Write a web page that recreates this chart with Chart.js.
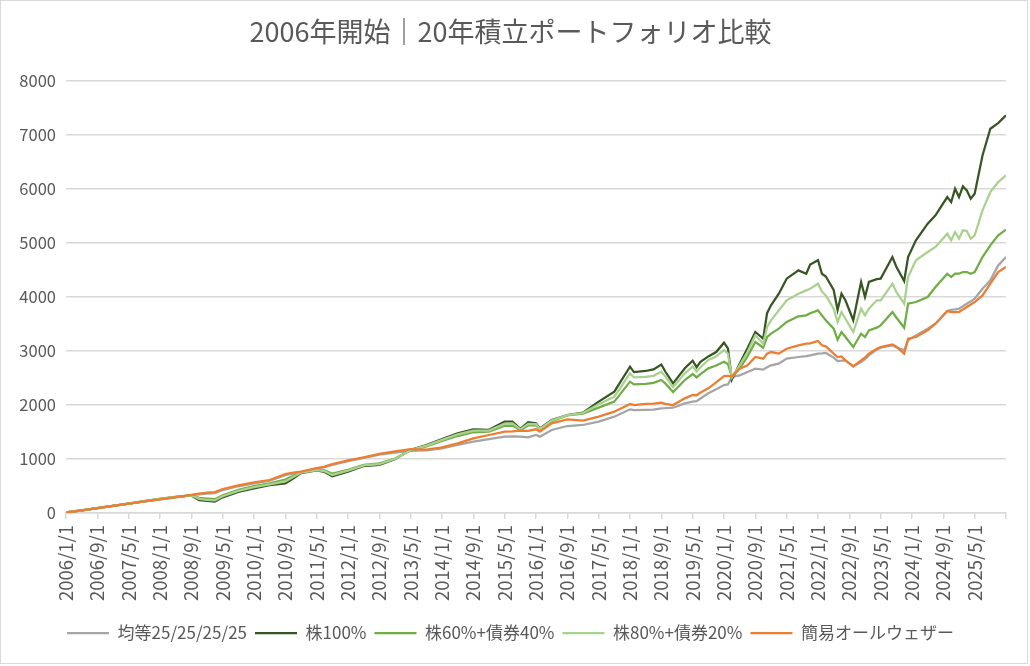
<!DOCTYPE html>
<html lang="ja">
<head>
<meta charset="utf-8">
<title>2006年開始｜20年積立ポートフォリオ比較</title>
<script src="https://cdn.jsdelivr.net/npm/chart.js@4.4.1/dist/chart.umd.min.js"></script>
<style>
  html, body { margin: 0; padding: 0; background: #ffffff; }
  #wrap { position: absolute; left: 0; top: 0; width: 1026px; height: 662px; border: 1px solid #d9d9d9; background: #ffffff; }
  #chart { display: block; }
</style>
</head>
<body>
<div id="wrap"><canvas id="chart" width="1026" height="662"></canvas></div>
<script>
// months since 2006/1 (0 = 2006/1/1)
const months = [
    0, 4, 8, 12, 16, 20, 24, 28, 32, 34, 36, 38, 40, 44, 48, 52, 56, 58, 60, 64,
    66, 68, 72, 76, 80, 84, 88, 92, 96, 100, 104, 108, 112, 114, 116, 118, 120, 121, 124, 128,
    132, 136, 140, 144, 145, 148, 150, 152, 153, 155, 158, 160, 161, 162, 164, 166, 168,
    169, 170, 172, 174, 176, 178, 179, 180, 182, 184, 187, 189, 190, 192, 193, 194, 196, 197,
    198, 199, 201, 203, 204, 205, 207, 208, 211, 212, 214, 215, 217, 220, 222, 225, 226, 227,
    228, 229, 230, 231, 232, 234, 236, 238, 240
];

const seriesNames = ["均等25/25/25/25", "株100%", "株60%+債券40%", "株80%+債券20%", "簡易オールウェザー"];
const seriesColors = ["#a5a5a5", "#375623", "#70ad47", "#a9d18e", "#ed7d31"];

const equal25 = [
    10, 50, 90, 130, 172, 214, 252, 290, 330, 345, 360, 370, 425, 495, 550, 600, 700, 735, 758, 820,
    850, 890, 960, 1020, 1080, 1120, 1150, 1160, 1197, 1260, 1321, 1370, 1413, 1420, 1413, 1400, 1445, 1414, 1537, 1611,
    1630, 1691, 1784, 1920, 1905, 1910, 1915, 1938, 1940, 1950, 2031, 2062, 2070, 2120, 2216, 2290, 2370,
    2380, 2519, 2550, 2611, 2673, 2654, 2700, 2735, 2766, 2858, 2889, 2907, 2920, 2951, 2955, 2963, 2877, 2815,
    2820, 2827, 2716, 2796, 2850, 2920, 3025, 3062, 3105, 3070, 3012, 3197, 3290, 3413, 3506, 3740, 3760, 3770,
    3784, 3830, 3876, 3920, 3969, 4154, 4308, 4586, 4740
];
const stock100 = [
    10, 50, 90, 132, 175, 220, 262, 300, 325, 240, 225, 210, 290, 390, 457, 515, 550, 640, 740, 790,
    760, 680, 766, 870, 889, 994, 1170, 1260, 1370, 1475, 1549, 1540, 1690, 1690, 1560, 1680, 1660, 1568, 1722, 1815,
    1860, 2062, 2247, 2710, 2610, 2630, 2660, 2750, 2620, 2400, 2680, 2820, 2700, 2800, 2900, 2980, 3154,
    3050, 2470, 2766, 3050, 3352, 3228, 3700, 3845, 4061, 4339, 4493, 4432, 4600, 4680, 4430, 4380, 4130, 3760,
    4060, 3940, 3570, 4280, 4000, 4280, 4330, 4340, 4740, 4560, 4296, 4740, 5049, 5357, 5512, 5851, 5758, 6006,
    5851, 6048, 5974, 5820, 5913, 6622, 7116, 7221, 7363
];
const stock60 = [
    10, 50, 90, 131, 174, 217, 258, 296, 328, 282, 268, 255, 330, 430, 500, 548, 620, 690, 755, 800,
    790, 730, 800, 890, 920, 1010, 1160, 1235, 1335, 1425, 1495, 1505, 1615, 1620, 1535, 1622, 1625, 1545, 1700, 1808,
    1840, 1951, 2062, 2432, 2380, 2390, 2410, 2463, 2400, 2240, 2463, 2574, 2510, 2570, 2679, 2730, 2802,
    2760, 2520, 2673, 2900, 3167, 3062, 3259, 3321, 3413, 3537, 3642, 3660, 3700, 3753, 3660, 3568, 3413, 3210,
    3352, 3259, 3074, 3321, 3259, 3383, 3432, 3475, 3722, 3620, 3432, 3876, 3907, 4000, 4185, 4431, 4370, 4431,
    4431, 4462, 4462, 4431, 4462, 4740, 4956, 5141, 5246
];
const stock80 = [
    10, 50, 90, 132, 175, 219, 260, 298, 327, 262, 245, 232, 310, 410, 480, 530, 585, 665, 748, 795,
    775, 705, 785, 880, 905, 1000, 1165, 1248, 1355, 1455, 1525, 1525, 1655, 1658, 1550, 1652, 1645, 1558, 1712, 1812,
    1852, 2012, 2154, 2586, 2510, 2520, 2540, 2617, 2530, 2330, 2586, 2710, 2620, 2700, 2833, 2900, 3018,
    2950, 2510, 2735, 2980, 3290, 3136, 3444, 3568, 3753, 3938, 4061, 4123, 4154, 4246, 4100, 4030, 3784, 3537,
    3722, 3598, 3352, 3784, 3660, 3784, 3938, 3938, 4246, 4093, 3876, 4370, 4679, 4833, 4926, 5172, 5049, 5203,
    5080, 5234, 5222, 5080, 5141, 5604, 5944, 6129, 6252
];
const allWeather = [
    10, 50, 90, 130, 172, 215, 253, 292, 335, 360, 378, 388, 444, 512, 568, 611, 722, 750, 765, 830,
    860, 905, 975, 1030, 1093, 1140, 1185, 1175, 1216, 1290, 1383, 1444, 1506, 1512, 1524, 1520, 1550, 1506, 1660, 1735,
    1710, 1784, 1877, 2019, 2000, 2019, 2025, 2043, 2020, 2000, 2123, 2185, 2180, 2230, 2309, 2420, 2537,
    2540, 2531, 2673, 2735, 2889, 2858, 2951, 2981, 2951, 3043, 3105, 3136, 3140, 3185, 3105, 3086, 2951, 2889,
    2900, 2827, 2716, 2827, 2880, 2951, 3043, 3074, 3123, 3080, 2951, 3228, 3259, 3383, 3506, 3740, 3722, 3722,
    3722, 3770, 3815, 3860, 3907, 4030, 4246, 4462, 4555
];

const yTicks = [0, 1000, 2000, 3000, 4000, 5000, 6000, 7000, 8000];
const xLabelStep = 8;
const xLastMonth = 240;

function monthLabel(m) {
    if (m >= xLastMonth) return "";
    const year = 2006 + Math.floor(m / 12);
    const month = (m % 12) + 1;
    return year + "/" + month + "/1";
}

const seriesValues = [equal25, stock100, stock60, stock80, allWeather];
const drawOrder = [4, 3, 2, 1, 0];

const datasets = seriesValues.map((values, i) => ({
    label: seriesNames[i],
    data: months.map((m, j) => ({ x: m, y: values[j] })),
    borderColor: seriesColors[i],
    backgroundColor: seriesColors[i],
    borderWidth: 2.25,
    pointRadius: 0,
    tension: 0,
    fill: false,
    order: drawOrder[i]
}));

const textColor = "#595959";
const gridColor = "#d9d9d9";
const jpFont = "'Noto Sans CJK JP', 'Noto Sans', sans-serif";

new Chart(document.getElementById("chart").getContext("2d"), {
    type: "line",
    data: { datasets },
    options: {
        responsive: false,
        animation: false,
        layout: { padding: { left: 14, right: 21, top: 0, bottom: 11.5 } },
        plugins: {
            title: {
                display: true,
                text: "2006年開始｜20年積立ポートフォリオ比較",
                color: textColor,
                font: { family: jpFont, size: 27, weight: "normal" },
                padding: { top: 15, bottom: 32.6 }
            },
            legend: {
                position: "bottom",
                labels: {
                    color: textColor,
                    font: { family: jpFont, size: 17 },
                    usePointStyle: true,
                    pointStyle: "line",
                    pointStyleWidth: 42,
                    padding: 8,
                    sort: (a, b) => a.datasetIndex - b.datasetIndex
                }
            },
            tooltip: { enabled: false }
        },
        scales: {
            x: {
                type: "linear",
                min: 0,
                max: xLastMonth,
                border: { display: true, color: gridColor, width: 1.5 },
                grid: { drawOnChartArea: false, drawTicks: true, tickLength: 6, color: gridColor, lineWidth: 1.5 },
                afterBuildTicks: axis => {
                    const ticks = [];
                    for (let m = 0; m <= xLastMonth; m += xLabelStep) ticks.push({ value: m });
                    axis.ticks = ticks;
                },
                afterFit: axis => {
                    axis.height = 103.5;
                    axis.paddingLeft = 0;
                    axis.paddingRight = 0;
                },
                ticks: {
                    autoSkip: false,
                    maxRotation: 90,
                    minRotation: 90,
                    padding: 6,
                    color: textColor,
                    font: { family: jpFont, size: 18.5 },
                    callback: value => monthLabel(value)
                }
            },
            y: {
                min: 0,
                max: 8000,
                border: { display: false },
                grid: { color: gridColor, lineWidth: 1.5, drawTicks: false },
                afterBuildTicks: axis => { axis.ticks = yTicks.map(v => ({ value: v })); },
                afterFit: axis => { axis.width = 51; },
                ticks: {
                    padding: 10,
                    color: textColor,
                    font: { family: jpFont, size: 16.5 },
                    callback: value => String(value)
                }
            }
        }
    }
});
</script>
</body>
</html>
